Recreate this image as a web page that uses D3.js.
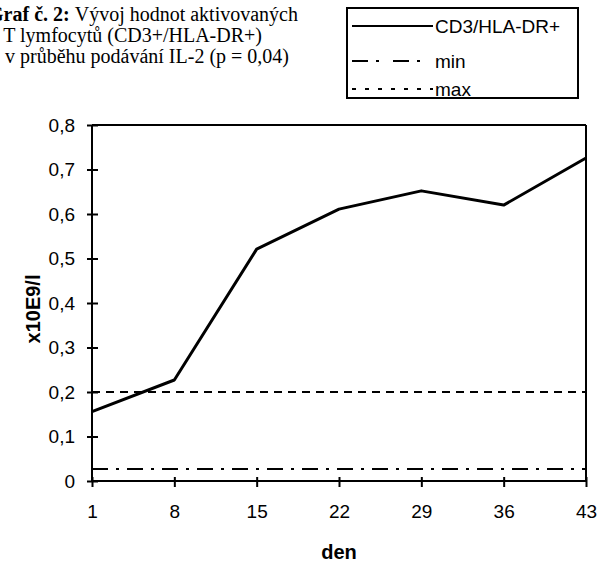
<!DOCTYPE html>
<html>
<head>
<meta charset="utf-8">
<script src="https://cdn.jsdelivr.net/npm/d3@7"></script>
<style>
  body { margin: 0; background: #fff; }
  svg { display: block; }
</style>
</head>
<body>
<svg id="chart"></svg>
<script>
// ===============================
// Data
// ===============================
const days = [1, 8, 15, 22, 29, 36, 43];
const cd3Values = [0.156, 0.227, 0.521, 0.611, 0.652, 0.62, 0.726];
const minValue = 0.027;
const maxValue = 0.2;
const yTicks = [0, 0.1, 0.2, 0.3, 0.4, 0.5, 0.6, 0.7, 0.8];
const legendLabels = ["CD3/HLA-DR+", "min", "max"];
const titleLines = [
    { bold: "Graf č. 2: ", text: "Vývoj hodnot aktivovaných", end: 298 },
    { bold: "", text: "T lymfocytů  (CD3+/HLA-DR+)", end: 262 },
    { bold: "", text: "v průběhu podávání IL-2 (p = 0,04)", end: 289 }
];

const width = 603, height = 564;
const margin = { top: 125, right: 17, bottom: 83, left: 92 };

const svg = d3.select("#chart")
    .attr("width", width)
    .attr("height", height);

const sans = "'Liberation Sans', Arial, sans-serif";

// Scales
const x = d3.scaleLinear()
    .domain([1, 43])
    .range([margin.left, width - margin.right]);

const y = d3.scaleLinear()
    .domain([0, 0.8])
    .range([height - margin.bottom, margin.top]);

// ===============================
// Title (cut off at the left edge, as in the scan)
// ===============================
titleLines.forEach((l, i) => {
    const t = svg.append("text")
        .attr("x", l.end)
        .attr("y", 21 + i * 21)
        .attr("text-anchor", "end")
        .attr("font-family", "'Liberation Serif', 'Times New Roman', serif")
        .attr("font-size", 20);
    if (l.bold) t.append("tspan").attr("font-weight", "bold").text(l.bold);
    t.append("tspan").text(l.text);
});

// ===============================
// Plot frame
// ===============================
svg.append("line")
    .attr("x1", x(1)).attr("x2", x(43))
    .attr("y1", y(0.8)).attr("y2", y(0.8))
    .attr("stroke", "#000").attr("stroke-width", 2);

svg.append("line")
    .attr("x1", x(43)).attr("x2", x(43))
    .attr("y1", y(0.8)).attr("y2", y(0))
    .attr("stroke", "#000").attr("stroke-width", 2);

// ===============================
// Reference lines
// ===============================
svg.append("line")
    .attr("x1", x(1)).attr("x2", x(43))
    .attr("y1", y(maxValue)).attr("y2", y(maxValue))
    .attr("stroke", "#000").attr("stroke-width", 2)
    .attr("stroke-dasharray", "8,6");

svg.append("line")
    .attr("x1", x(1)).attr("x2", x(43))
    .attr("y1", y(minValue)).attr("y2", y(minValue))
    .attr("stroke", "#000").attr("stroke-width", 2)
    .attr("stroke-dasharray", "16,8,3,8");

// ===============================
// Axes
// ===============================
const fmt = d => d === 0 ? "0" : d3.format(".1f")(d).replace(".", ",");

const yAxis = svg.append("g")
    .attr("transform", `translate(${margin.left},0)`)
    .call(d3.axisLeft(y).tickValues(yTicks).tickFormat(fmt).tickSize(5).tickPadding(12));

const xAxis = svg.append("g")
    .attr("transform", `translate(0,${y(0)})`)
    .call(d3.axisBottom(x).tickValues(days).tickFormat(d3.format("d")).tickSize(6).tickPadding(18));

[yAxis, xAxis].forEach(g => {
    g.select(".domain").attr("stroke", "#000").attr("stroke-width", 2);
    g.selectAll(".tick line").attr("stroke", "#000").attr("stroke-width", 2);
    g.selectAll(".tick text")
        .attr("fill", "#000")
        .attr("font-family", sans)
        .attr("font-size", 19);
});
// ticks cross the axis lines
yAxis.selectAll(".tick line").attr("x1", 6).attr("x2", -5);
xAxis.selectAll(".tick line").attr("y1", -4).attr("y2", 6);
yAxis.select(".domain").attr("d", `M0,${y(0)}V${y(0.8)}`);
xAxis.select(".domain").attr("d", `M${x(1)},0H${x(43)}`);

// Axis titles
svg.append("text")
    .attr("transform", `translate(40,${(y(0) + y(0.8)) / 2 + 6}) rotate(-90)`)
    .attr("text-anchor", "middle")
    .attr("font-family", sans)
    .attr("font-weight", "bold")
    .attr("font-size", 20)
    .text("x10E9/l");

svg.append("text")
    .attr("x", x(22))
    .attr("y", 559)
    .attr("text-anchor", "middle")
    .attr("font-family", sans)
    .attr("font-weight", "bold")
    .attr("font-size", 20)
    .text("den");

// ===============================
// Data line
// ===============================
const series = days.map((d, i) => [d, cd3Values[i]]);

svg.append("path")
    .datum(series)
    .attr("fill", "none")
    .attr("stroke", "#000")
    .attr("stroke-width", 3)
    .attr("stroke-linejoin", "round")
    .attr("d", d3.line().x(d => x(d[0])).y(d => y(d[1])));

// ===============================
// Legend
// ===============================
const legend = svg.append("g");
legend.append("rect")
    .attr("x", 347).attr("y", 8)
    .attr("width", 231).attr("height", 90)
    .attr("fill", "#fff")
    .attr("stroke", "#000").attr("stroke-width", 2);

const legendRows = [26, 61, 89];
const legendDash = [null, "16,8,3,14", "4,9"];
legendLabels.forEach((lab, i) => {
    legend.append("line")
        .attr("x1", 352).attr("x2", 433)
        .attr("y1", legendRows[i]).attr("y2", legendRows[i])
        .attr("stroke", "#000")
        .attr("stroke-width", 2)
        .attr("stroke-dasharray", legendDash[i]);
    legend.append("text")
        .attr("x", 435)
        .attr("y", legendRows[i] + 7)
        .attr("font-family", sans)
        .attr("font-size", 19)
        .text(lab);
});
</script>
</body>
</html>
